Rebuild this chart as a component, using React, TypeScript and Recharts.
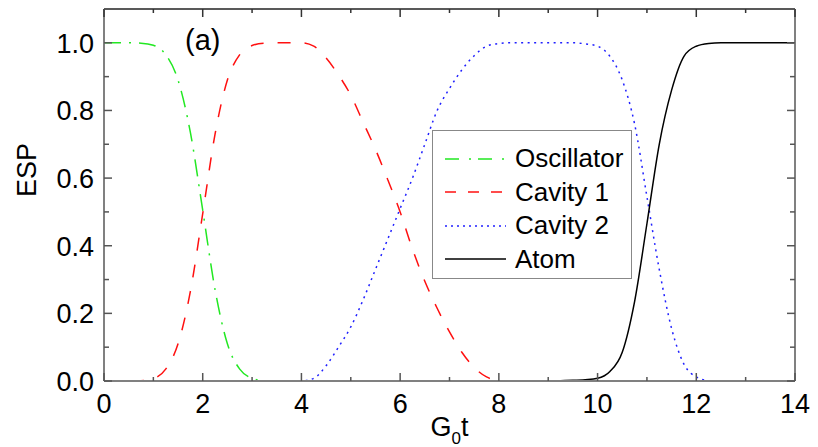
import React from 'react';
import { LineChart, Line, XAxis, YAxis } from 'recharts';

const FONT = '"Liberation Sans", Arial, sans-serif';

// G0t sampled every 0.25
const times = [
  0, 0.25, 0.5, 0.75, 1, 1.25, 1.5, 1.75, 2, 2.25, 2.5, 2.75, 3, 3.25, 3.5, 3.75,
  4, 4.25, 4.5, 4.75, 5, 5.25, 5.5, 5.75, 6, 6.25, 6.5, 6.75, 7, 7.25, 7.5, 7.75,
  8, 8.25, 8.5, 8.75, 9, 9.25, 9.5, 9.75, 10, 10.25, 10.5, 10.75, 11, 11.25, 11.5, 11.75,
  12, 12.25, 12.5, 12.75, 13, 13.25, 13.5, 13.75, 14,
];

const oscillator = [
  1, 1, 1, 0.999, 0.993, 0.965, 0.89, 0.735, 0.505, 0.27, 0.11, 0.035, 0.008, 0.001, 0, 0,
  0, 0, 0, 0, 0, 0, 0, 0, 0, 0, 0, 0, 0, 0, 0, 0,
  0, 0, 0, 0, 0, 0, 0, 0, 0, 0, 0, 0, 0, 0, 0, 0,
  0, 0, 0, 0, 0, 0, 0, 0, 0,
];

const cavity1 = [
  0, 0, 0, 0.001, 0.007, 0.035, 0.11, 0.265, 0.495, 0.73, 0.89, 0.965, 0.992, 0.999, 1, 1,
  1, 0.99, 0.955, 0.905, 0.845, 0.765, 0.685, 0.595, 0.5, 0.39, 0.295, 0.215, 0.145, 0.085, 0.04, 0.012,
  0.001, 0, 0, 0, 0, 0, 0, 0, 0, 0, 0, 0, 0, 0, 0, 0,
  0, 0, 0, 0, 0, 0, 0, 0, 0,
];

const cavity2 = [
  0, 0, 0, 0, 0, 0, 0, 0, 0, 0, 0, 0, 0, 0, 0, 0,
  0, 0.008, 0.045, 0.1, 0.16, 0.24, 0.33, 0.42, 0.51, 0.6, 0.7, 0.8, 0.865, 0.92, 0.962, 0.99,
  0.998, 1, 1, 1, 1, 1, 1, 0.997, 0.99, 0.96, 0.89, 0.76, 0.545, 0.33, 0.155, 0.05,
  0.012, 0.001, 0, 0, 0, 0, 0, 0, 0,
];

const atom = [
  0, 0, 0, 0, 0, 0, 0, 0, 0, 0, 0, 0, 0, 0, 0, 0,
  0, 0, 0, 0, 0, 0, 0, 0, 0, 0, 0, 0, 0, 0, 0, 0,
  0, 0, 0, 0, 0, 0.001, 0.002, 0.004, 0.008, 0.028, 0.085, 0.235, 0.465, 0.7, 0.86, 0.96,
  0.99, 0.998, 1, 1, 1, 1, 1, 1, 1,
];

const xTicks = [0, 1, 2, 3, 4, 5, 6, 7, 8, 9, 10, 11, 12, 13, 14];
const yTicks = [0, 0.1, 0.2, 0.3, 0.4, 0.5, 0.6, 0.7, 0.8, 0.9, 1.0];

const data = times.map((t, i) => ({
  t,
  osc: oscillator[i],
  cav1: cavity1[i],
  cav2: cavity2[i],
  atom: atom[i],
}));

const series = [
  { key: 'osc', name: 'Oscillator', color: '#22e822', dash: '17 8 2 8', legendDash: '14 10 2 7' },
  { key: 'cav1', name: 'Cavity 1', color: '#ff1010', dash: '13 14', legendDash: '11 12' },
  { key: 'cav2', name: 'Cavity 2', color: '#2020ff', dash: '2 4.5', legendDash: '2 4' },
  { key: 'atom', name: 'Atom', color: '#000000', dash: undefined, legendDash: undefined },
];

const isMajorX = (v: number) => Math.round(v) % 2 === 0;
const isMajorY = (v: number) => Math.round(v * 10) % 2 === 0;

function BottomTick(props: any) {
  const { x, y, payload } = props;
  const major = isMajorX(payload.value);
  return (
    <g>
      <line x1={x} x2={x} y1={y} y2={y - (major ? 8 : 4)} stroke="#555" strokeWidth={1.5} />
      {major && (
        <text x={x} y={y + 32} textAnchor="middle" fontSize={27} fontFamily={FONT} fill="#000">
          {payload.value}
        </text>
      )}
    </g>
  );
}

function TopTick(props: any) {
  const { x, y, payload } = props;
  const major = isMajorX(payload.value);
  return <line x1={x} x2={x} y1={y} y2={y + (major ? 8 : 4)} stroke="#333" strokeWidth={1.5} />;
}

function LeftTick(props: any) {
  const { x, y, payload } = props;
  const major = isMajorY(payload.value);
  return (
    <g>
      <line x1={x} x2={x + (major ? 8 : 5)} y1={y} y2={y} stroke="#555" strokeWidth={1.5} />
      {major && (
        <text x={x - 10} y={y + 10} textAnchor="end" fontSize={27} fontFamily={FONT} fill="#000">
          {payload.value.toFixed(1)}
        </text>
      )}
    </g>
  );
}

function RightTick(props: any) {
  const { x, y, payload } = props;
  const major = isMajorY(payload.value);
  return <line x1={x} x2={x - (major ? 8 : 5)} y1={y} y2={y} stroke="#555" strokeWidth={1.5} />;
}

function LegendBox() {
  return (
    <div
      style={{
        position: 'absolute',
        left: 432,
        top: 130,
        width: 200,
        height: 149,
        boxSizing: 'border-box',
        border: '1.5px solid #888',
        background: '#fff',
        fontFamily: FONT,
        fontSize: 26,
        paddingTop: 11,
      }}
    >
      {series.map((s) => (
        <div key={s.key} style={{ display: 'flex', alignItems: 'center', height: 33.5 }}>
          <svg width={82} height={20} style={{ display: 'block' }}>
            <line x1={12} x2={73} y1={10} y2={10} stroke={s.color} strokeWidth={1.5} strokeDasharray={s.legendDash} />
          </svg>
          <span style={{ lineHeight: '33px' }}>{s.name}</span>
        </div>
      ))}
    </div>
  );
}

function XTitle(props: any) {
  const { viewBox } = props;
  const cx = viewBox.x + viewBox.width / 2;
  return (
    <text x={cx - 19} y={436} fontSize={27} fontFamily={FONT} fill="#000">
      <tspan>G</tspan>
      <tspan fontSize={17} dy={8}>0</tspan>
      <tspan dy={-8}>t</tspan>
    </text>
  );
}

function YTitle() {
  return (
    <text
      x={36}
      y={170}
      transform="rotate(-90 36 170)"
      textAnchor="middle"
      fontSize={27}
      fontFamily={FONT}
      fill="#000"
    >
      ESP
    </text>
  );
}

export default function App() {
  return (
    <div style={{ position: 'absolute', left: 0, top: 0, width: 818, height: 447, background: '#fff' }}>
      <LineChart
        width={818}
        height={447}
        data={data}
        margin={{ top: 8, right: 22, bottom: 36, left: 44 }}
      >
        <XAxis
          xAxisId="b"
          dataKey="t"
          type="number"
          domain={[0, 14]}
          ticks={xTicks}
          interval={0}
          height={30}
          tickSize={0}
          tickMargin={0}
          tickLine={false}
          axisLine={{ stroke: '#808080', strokeWidth: 2 }}
          tick={<BottomTick />}
          label={<XTitle />}
        />
        <XAxis
          xAxisId="t"
          orientation="top"
          dataKey="t"
          type="number"
          domain={[0, 14]}
          ticks={xTicks}
          interval={0}
          height={1}
          tickSize={0}
          tickMargin={0}
          tickLine={false}
          axisLine={{ stroke: '#222', strokeWidth: 1.5 }}
          tick={<TopTick />}
        />
        <YAxis
          yAxisId="l"
          type="number"
          domain={[0, 1.1]}
          ticks={yTicks}
          interval={0}
          width={60}
          tickSize={0}
          tickMargin={0}
          tickLine={false}
          axisLine={{ stroke: '#808080', strokeWidth: 2 }}
          tick={<LeftTick />}
          label={<YTitle />}
        />
        <YAxis
          yAxisId="r"
          orientation="right"
          type="number"
          domain={[0, 1.1]}
          ticks={yTicks}
          interval={0}
          width={1}
          tickSize={0}
          tickMargin={0}
          tickLine={false}
          axisLine={{ stroke: '#808080', strokeWidth: 2 }}
          tick={<RightTick />}
        />
        {/* invisible series so the top and right frame axes get drawn */}
        <Line
          xAxisId="t"
          yAxisId="r"
          dataKey="atom"
          stroke="none"
          dot={false}
          activeDot={false}
          legendType="none"
          isAnimationActive={false}
        />
        {series.map((s) => (
          <Line
            key={s.key}
            xAxisId="b"
            yAxisId="l"
            dataKey={s.key}
            name={s.name}
            type="monotone"
            stroke={s.color}
            strokeWidth={1.5}
            strokeDasharray={s.dash}
            dot={false}
            activeDot={false}
            isAnimationActive={false}
          />
        ))}
      </LineChart>
      <LegendBox />
      <div
        style={{
          position: 'absolute',
          left: 185,
          top: 24,
          fontFamily: FONT,
          fontSize: 29,
          lineHeight: '32px',
        }}
      >
        (a)
      </div>
    </div>
  );
}
